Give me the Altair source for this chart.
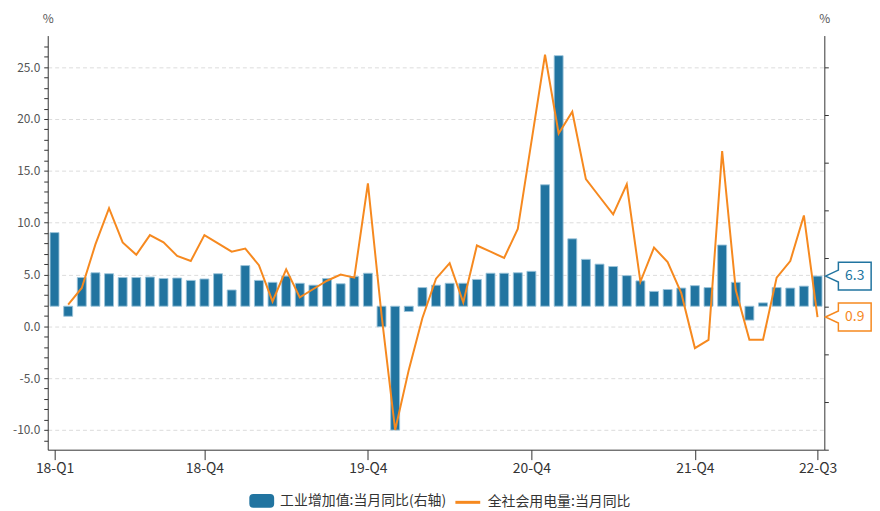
import json
import altair as alt
import pandas as pd

# ---------------- data ----------------
months = [f"{y}-{m:02d}" for y in range(2018, 2023) for m in range(1, 13)][:57]

industrial = [
    15.4, -2.1, 6.0, 7.0, 6.8, 6.0, 6.0, 6.1, 5.8, 5.9, 5.4, 5.7,      # 2018
    6.8, 3.4, 8.5, 5.4, 5.0, 6.3, 4.8, 4.4, 5.8, 4.7, 6.2, 6.9,        # 2019
    -4.3, -25.9, -1.1, 3.9, 4.4, 4.8, 4.8, 5.6, 6.9, 6.9, 7.0, 7.3,    # 2020
    25.4, 52.4, 14.1, 9.8, 8.8, 8.3, 6.4, 5.3, 3.1, 3.5, 3.8, 4.3,     # 2021
    3.9, 12.8, 5.0, -2.9, 0.7, 3.9, 3.8, 4.2, 6.3,                     # 2022
]

electricity = [
    None, 2.1, 3.7, 7.9, 11.4, 8.1, 6.9, 8.8, 8.1, 6.8, 6.3, 8.8,     # 2018
    8.0, 7.2, 7.5, 5.9, 2.4, 5.5, 2.8, 3.6, 4.4, 5.0, 4.7, 13.8,       # 2019
    1.1, -10.0, -4.2, 0.8, 4.6, 6.1, 2.3, 7.8, 7.2, 6.6, 9.4, 17.8,    # 2020
    26.2, 18.6, 20.7, 14.2, 12.5, 10.8, 13.7, 4.3, 7.6, 6.2, 3.2, -2.1,  # 2021
    -1.3, 16.9, 3.5, -1.3, -1.3, 4.7, 6.3, 10.7, 0.9,                  # 2022
]

tick_index = [0, 11, 23, 35, 47, 56]
tick_labels = ["18-Q1", "18-Q4", "19-Q4", "20-Q4", "21-Q4", "22-Q3"]

left_ticks = list(range(-11, 28))
right_ticks = list(range(-30, 51, 10))

bar_name = "工业增加值:当月同比(右轴)"
line_name = "全社会用电量:当月同比"

BLUE = "#2174A0"
ORANGE = "#F6891F"
FONT = "Microsoft YaHei, Noto Sans CJK SC, sans-serif"

df = pd.DataFrame({"i": list(range(len(months))), "month": months,
                   "ind": industrial, "elec": electricity})
df["bs"] = bar_name
df["ls"] = line_name
last = df.iloc[[-1]].copy()

# ---------------- shared encodings ----------------
x_enc = alt.X(
    "i:Q",
    scale=alt.Scale(domain=[-0.5, len(months) - 0.5], nice=False, zero=False, padding=0),
    axis=alt.Axis(
        values=tick_index,
        labelExpr=f"{json.dumps(tick_labels)}[indexof({json.dumps(tick_index)}, datum.value)]",
        title=None, grid=False, tickSize=10, labelPadding=2,
        labelFontSize=14, labelColor="#333", labelFont=FONT,
        domainColor="#333", tickColor="#333",
    ),
)

right_axis = alt.Axis(
    orient="right", values=right_ticks, labels=False, grid=False,
    tickSize=4, domainColor="#333", tickColor="#333",
    title="%", titleAngle=0, titleX=0, titleY=-17, titleAlign="center",
    titleBaseline="middle", titleFontWeight="normal", titleFontSize=12,
    titleColor="#555", titleFont=FONT,
)
right_scale = alt.Scale(domain=[-30, 56.6], nice=False)

left_axis = alt.Axis(
    orient="left", values=left_ticks,
    labelExpr="datum.value % 5 === 0 ? (datum.value < 0 ? '-' : '') + format(abs(datum.value), '.1f') : ''",
    tickSize=4, labelPadding=4, labelFontSize=12, labelColor="#555", labelFont=FONT,
    domainColor="#333", tickColor="#333",
    grid=True, gridColor="#dcdcdc", gridDash=[4, 3],
    gridOpacity={"condition": {"test": "datum.value % 5 === 0", "value": 1}, "value": 0},
    title="%", titleAngle=0, titleX=0, titleY=-17, titleAlign="center",
    titleBaseline="middle", titleFontWeight="normal", titleFontSize=12,
    titleColor="#555", titleFont=FONT,
)
left_scale = alt.Scale(domain=[-11.9, 28.05], nice=False, zero=False)

# rounded-rect legend symbol and callout box shapes
rounded_rect = ("M-0.68,-0.56 L0.68,-0.56 Q1,-0.56 1,-0.24 L1,0.24 Q1,0.56 0.68,0.56 "
                "L-0.68,0.56 Q-1,0.56 -1,0.24 L-1,-0.24 Q-1,-0.56 -0.68,-0.56 Z")
callout = "M8,0 L21,-6 L21,-14 L54,-14 L54,14 L21,14 L21,6 Z"

# ---------------- right-axis layer: industrial value added ----------------
bars = alt.Chart(df).mark_bar(size=9, stroke="#9cc4da", strokeWidth=1, strokeOpacity=0.9).encode(
    x=x_enc,
    y=alt.Y("ind:Q", scale=right_scale, axis=right_axis),
    fill=alt.Fill("bs:N", scale=alt.Scale(domain=[bar_name], range=[BLUE]),
                  legend=alt.Legend(orient="none", legendX=203, legendY=456, title=None,
                                    symbolType=rounded_rect, symbolSize=625,
                                    symbolStrokeWidth=0, symbolOpacity=1,
                                    labelFont=FONT, labelFontSize=14, labelColor="#333",
                                    labelOffset=6, labelLimit=400)),
)
bar_box = alt.Chart(last).mark_point(shape=callout, size=4, filled=True, fill="white",
                                     stroke=BLUE, strokeWidth=1.5, opacity=1).encode(
    x=x_enc, y=alt.Y("ind:Q", scale=right_scale, axis=right_axis))
bar_text = alt.Chart(last).mark_text(dx=37.5, align="center", baseline="middle",
                                     fontSize=14, font=FONT, color=BLUE).encode(
    x=x_enc, y=alt.Y("ind:Q", scale=right_scale, axis=right_axis),
    text=alt.Text("ind:Q", format=".1f"))
right_layer = alt.layer(bars, bar_box, bar_text)

# ---------------- left-axis layer: electricity consumption ----------------
line = alt.Chart(df).mark_line(strokeWidth=2).encode(
    x=x_enc,
    y=alt.Y("elec:Q", scale=left_scale, axis=left_axis),
    stroke=alt.Stroke("ls:N", scale=alt.Scale(domain=[line_name], range=[ORANGE]),
                      legend=alt.Legend(orient="none", legendX=409, legendY=456, title=None,
                                        symbolType="stroke", symbolSize=625,
                                        symbolStrokeWidth=3,
                                        labelFont=FONT, labelFontSize=14, labelColor="#333",
                                        labelOffset=6, labelLimit=400)),
)
line_box = alt.Chart(last).mark_point(shape=callout, size=4, filled=True, fill="white",
                                      stroke=ORANGE, strokeWidth=1.5, opacity=1).encode(
    x=x_enc, y=alt.Y("elec:Q", scale=left_scale, axis=left_axis))
line_text = alt.Chart(last).mark_text(dx=37.5, align="center", baseline="middle",
                                      fontSize=14, font=FONT, color=ORANGE).encode(
    x=x_enc, y=alt.Y("elec:Q", scale=left_scale, axis=left_axis),
    text=alt.Text("elec:Q", format=".1f"))
left_layer = alt.layer(line, line_box, line_text)

chart = (
    alt.layer(right_layer, left_layer)
    .resolve_scale(y="independent", fill="independent", stroke="independent")
    .properties(width=782, height=417,
                autosize=alt.AutoSizeParams(type="none"),
                padding={"left": 40, "top": 26, "right": 48, "bottom": 64},
                background="white")
    .configure_view(stroke=None)
)

chart.save("out.html", embed_options={"renderer": "svg", "actions": False})
